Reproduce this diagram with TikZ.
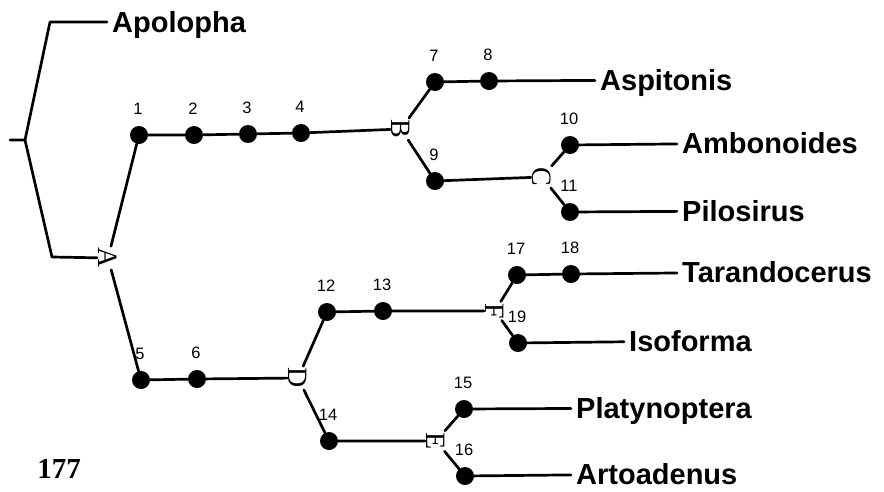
\documentclass[tikz,border=0pt]{standalone}
\usepackage{fontspec}
\setmainfont{Liberation Serif}
\setsansfont{Liberation Sans}
\begin{document}
\begin{tikzpicture}[x=1pt,y=-1pt,
  edge/.style={line width=2.7pt,line cap=round,line join=round},
  dot/.style={circle,fill=black,draw=none,minimum size=18pt,inner sep=0pt},
  num/.style={font=\sffamily\fontsize{16.5}{16.5}\selectfont,inner sep=0pt,text depth=0pt,anchor=south},
  taxon/.style={font=\sffamily\bfseries\fontsize{29}{29}\selectfont,anchor=west,
    inner xsep=5pt,inner ysep=0pt,text height=21pt,text depth=0pt},
  junc/.style={font=\fontsize{28}{28}\selectfont,rotate=-90,inner sep=1.5pt}]
\useasboundingbox (0,0) rectangle (884,491);
% coordinates of the root
\coordinate (r0) at (10,140);
\coordinate (rj) at (25,140);
\coordinate (rt) at (50,22);
\coordinate (rb) at (52,257);
% junction letters
\node[junc] (A) at (108,258) {A};
\node[junc] (B) at (401,129) {B};
\node[junc] (C) at (542,177) {C};
\node[junc] (D) at (298,378) {D};
\node[junc] (E) at (436,441) {E};
\node[junc] (F) at (495,311) {F};
% dots and their numbers
\foreach \n/\x/\y in {1/139/135,2/194/135,3/248/134,4/301/133,
  7/435/82,8/489/81,9/435/181,10/570/145,11/570/212,
  5/141/380,6/197/379,12/327/312,13/383/311,17/517/275,18/571/274,
  19/518/343,14/329/441,15/464/409,16/465/476}
  {\node[dot] (n\n) at (\x,\y) {};
   \node[num] (l\n) at (\x-1,\y-20) {\n};}
% taxa
\node[taxon] (Apolopha) at (107,22) {Apolopha};
\node[taxon] (Aspitonis) at (595,80) {Aspitonis};
\node[taxon] (Ambonoides) at (677,143) {Ambonoides};
\node[taxon] (Pilosirus) at (677,211) {Pilosirus};
\node[taxon] (Tarandocerus) at (677,272) {Tarandocerus};
\node[taxon] (Isoforma) at (624,341) {Isoforma};
\node[taxon] (Platynoptera) at (571,408) {Platynoptera};
\node[taxon] (Artoadenus) at (571,474) {Artoadenus};
% page number
\node[font=\bfseries\fontsize{29}{29}\selectfont,inner sep=0pt] (pg) at (59,469) {177};
% edges
\draw[edge] (r0) -- (rj) -- (rt) -- (Apolopha);
\draw[edge] (rj) -- (rb) -- (A);
\draw[edge] (A) -- (n1) -- (n2) -- (n3) -- (n4) -- (B);
\draw[edge] (B) -- (n7) -- (n8) -- (Aspitonis);
\draw[edge] (B) -- (n9) -- (C);
\draw[edge] (C) -- (n10) -- (Ambonoides);
\draw[edge] (C) -- (n11) -- (Pilosirus);
\draw[edge] (A) -- (n5) -- (n6) -- (D);
\draw[edge] (D) -- (n12) -- (n13) -- (F);
\draw[edge] (F) -- (n17) -- (n18) -- (Tarandocerus);
\draw[edge] (F) -- (n19) -- (Isoforma);
\draw[edge] (D) -- (n14) -- (E);
\draw[edge] (E) -- (n15) -- (Platynoptera);
\draw[edge] (E) -- (n16) -- (Artoadenus);
\end{tikzpicture}
\end{document}
